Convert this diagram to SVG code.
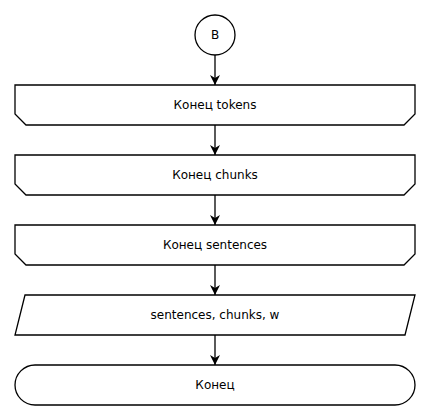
<svg xmlns="http://www.w3.org/2000/svg" width="430" height="420" viewBox="0 0 430 420">
<style>
.s{fill:#fff;stroke:#000;stroke-width:1.3}
.t{font-family:"DejaVu Sans",sans-serif;font-size:12px;fill:#000;text-anchor:middle;dominant-baseline:central}
.c{stroke:#000;stroke-width:1.3;fill:none;marker-end:url(#a)}
</style>
<defs>
<marker id="a" markerWidth="10" markerHeight="12" refX="10" refY="5" orient="auto" markerUnits="userSpaceOnUse" viewBox="0 0 10 10">
<path d="M0,0 L10,5 L0,10 L3,5 Z" fill="#000"/>
</marker>
</defs>
<rect width="430" height="420" fill="#fff"/>
<g id="connectors">
<line class="c" x1="215" y1="55" x2="215" y2="85"/>
<line class="c" x1="215" y1="125" x2="215" y2="155"/>
<line class="c" x1="215" y1="195" x2="215" y2="225"/>
<line class="c" x1="215" y1="265" x2="215" y2="295"/>
<line class="c" x1="215" y1="335" x2="215" y2="365"/>
</g>
<g id="n0"><circle class="s" cx="215" cy="35" r="20"/><text class="t" x="215" y="35">B</text></g>
<g id="n1"><path class="s" d="M15,85 H415 V114 L404,125 H26 L15,114 Z"/><text class="t" x="215" y="105">Конец tokens</text></g>
<g id="n2"><path class="s" d="M15,155 H415 V184 L404,195 H26 L15,184 Z"/><text class="t" x="215" y="175">Конец chunks</text></g>
<g id="n3"><path class="s" d="M15,225 H415 V254 L404,265 H26 L15,254 Z"/><text class="t" x="215" y="245">Конец sentences</text></g>
<g id="n4"><path class="s" d="M25,295 H415 L405,335 H15 Z"/><text class="t" x="215" y="315">sentences, chunks, w</text></g>
<g id="n5"><rect class="s" x="15" y="365" width="400" height="40" rx="20" ry="20"/><text class="t" x="215" y="385">Конец</text></g>
</svg>
